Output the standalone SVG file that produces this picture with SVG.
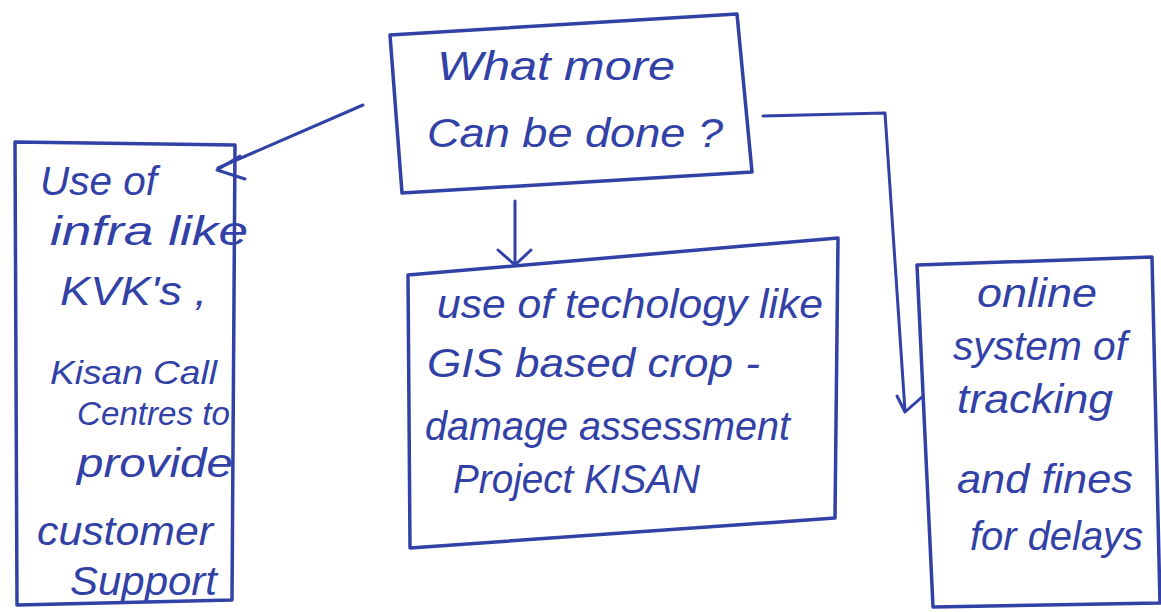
<svg xmlns="http://www.w3.org/2000/svg" width="1161" height="612" viewBox="0 0 1161 612">
<style>
.box{fill:none;stroke:#3241a6;stroke-width:3.5;stroke-linejoin:round;stroke-linecap:round}
.ln{fill:none;stroke:#3241a6;stroke-width:3;stroke-linecap:round;stroke-linejoin:round}
.t{font-family:"Liberation Sans",Arial,sans-serif;font-size:40px;fill:#3241a6;font-style:italic}
.s{font-size:33px}
</style>
<rect width="1161" height="612" fill="#ffffff"/>
<g id="connectors">
<path class="ln" d="M363,105 L218,168"/>
<path class="ln" d="M240,156 L217,170 L245,179"/>
<path class="ln" d="M515,201 L515,263"/>
<path class="ln" d="M498,250 L515,265 L531,250"/>
<path class="ln" d="M763,116 L885,113 L905,411"/>
<path class="ln" d="M897,396 L905,412 L922,397"/>
</g>
<g id="node-top">
<path class="box" d="M390,35 L737,14 L752,172 L402,193 Z"/>
<text class="t" x="437" y="80" textLength="238" lengthAdjust="spacingAndGlyphs">What more</text>
<text class="t" x="427" y="147" textLength="296" lengthAdjust="spacingAndGlyphs">Can be done ?</text>
</g>
<g id="node-left">
<path class="box" d="M15,142 L235,145 L232,600 L17,605 Z"/>
<text class="t" x="40" y="195" textLength="117" lengthAdjust="spacingAndGlyphs">Use of</text>
<text class="t" x="50" y="245" textLength="198" lengthAdjust="spacingAndGlyphs">infra like</text>
<text class="t" x="60" y="305" textLength="147" lengthAdjust="spacingAndGlyphs">KVK's ,</text>
<text class="t s" x="50" y="384" textLength="167" lengthAdjust="spacingAndGlyphs">Kisan Call</text>
<text class="t s" x="77" y="425" textLength="153" lengthAdjust="spacingAndGlyphs">Centres to</text>
<text class="t" x="77" y="477" textLength="156" lengthAdjust="spacingAndGlyphs">provide</text>
<text class="t" x="37" y="545" textLength="176" lengthAdjust="spacingAndGlyphs">customer</text>
<text class="t" x="70" y="595" textLength="147" lengthAdjust="spacingAndGlyphs">Support</text>
</g>
<g id="node-center">
<path class="box" d="M408,275 L838,238 L835,518 L410,548 Z"/>
<text class="t" x="437" y="318" textLength="386" lengthAdjust="spacingAndGlyphs">use of techology like</text>
<text class="t" x="427" y="377" textLength="333" lengthAdjust="spacingAndGlyphs">GIS based crop -</text>
<text class="t" x="425" y="440" textLength="365" lengthAdjust="spacingAndGlyphs">damage assessment</text>
<text class="t" x="453" y="493" textLength="247" lengthAdjust="spacingAndGlyphs">Project KISAN</text>
</g>
<g id="node-right">
<path class="box" d="M917,265 L1152,257 L1160,603 L933,607 Z"/>
<text class="t" x="977" y="307" textLength="120" lengthAdjust="spacingAndGlyphs">online</text>
<text class="t" x="953" y="360" textLength="174" lengthAdjust="spacingAndGlyphs">system of</text>
<text class="t" x="957" y="413" textLength="156" lengthAdjust="spacingAndGlyphs">tracking</text>
<text class="t" x="957" y="493" textLength="176" lengthAdjust="spacingAndGlyphs">and fines</text>
<text class="t" x="970" y="550" textLength="173" lengthAdjust="spacingAndGlyphs">for delays</text>
</g>
</svg>
